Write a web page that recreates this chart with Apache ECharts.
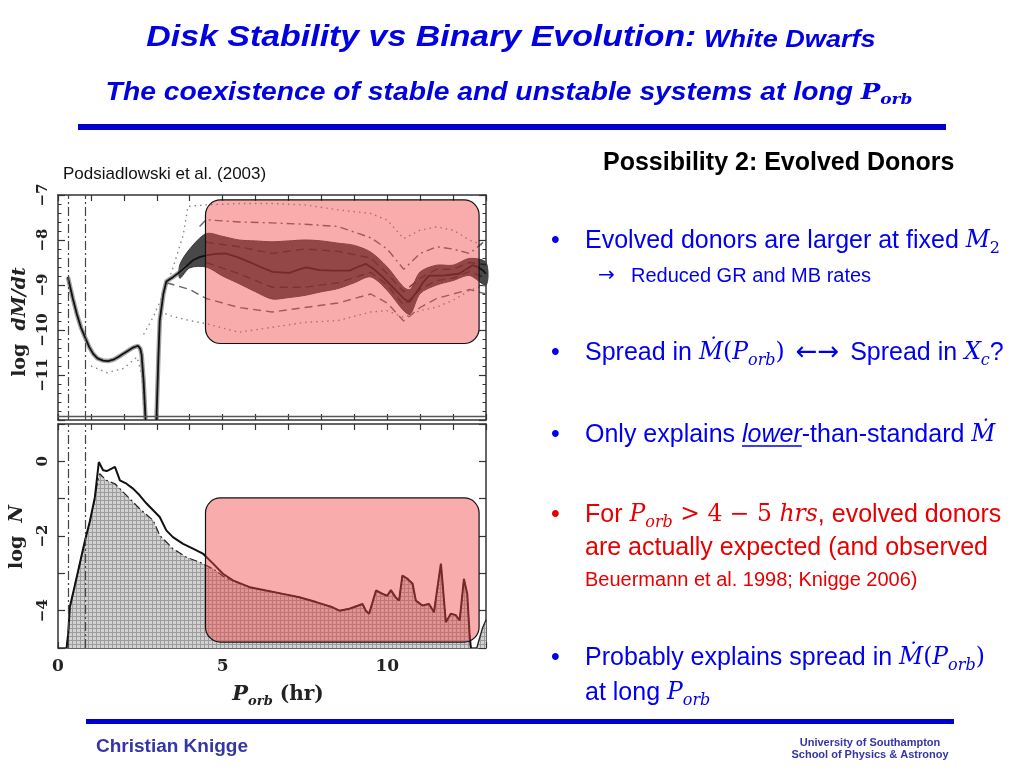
<!DOCTYPE html>
<html><head><meta charset="utf-8">
<script src="https://cdn.jsdelivr.net/npm/echarts@6/dist/echarts.min.js"></script>
<style>html,body{margin:0;padding:0;background:#fff}#c{width:1024px;height:768px}</style>
</head><body><div id="c"></div>
<script>
// ---------------- data ----------------
const xRange = [0, 13];
const xTickLabels = [0, 5, 10];
const mdotRange = [-12, -7];
const mdotTickLabels = [-7, -8, -9, -10, -11];
const logNRange = [-5, 1];
const logNTickLabels = [0, -2, -4];
const periodLines = [0.30, 0.82];
const mdotFloorLine = -11.91;

const mdotMainLeft = [[0.30,-8.82],[0.45,-9.30],[0.57,-9.64],[0.70,-9.95],[0.82,-10.16],[0.95,-10.38],[1.07,-10.53],[1.20,-10.63],[1.37,-10.68],[1.52,-10.69],[1.68,-10.66],[1.83,-10.60],[1.98,-10.53],[2.13,-10.46],[2.28,-10.39],[2.43,-10.35],[2.50,-10.42],[2.54,-10.55],[2.60,-11.13],[2.66,-12.0]];
const mdotMainRight = [[2.99,-12.0],[3.05,-10.6],[3.09,-9.79],[3.20,-9.20],[3.29,-8.92],[3.50,-8.82],[3.70,-8.71],[3.90,-8.58],[4.10,-8.45],[4.30,-8.38],[4.50,-8.34],[4.80,-8.31],[5.10,-8.30],[5.45,-8.38],[5.82,-8.49],[6.15,-8.60],[6.52,-8.71],[7.03,-8.73],[7.30,-8.66],[7.54,-8.61],[7.94,-8.67],[8.40,-8.68],[8.85,-8.68],[9.10,-8.60],[9.35,-8.53],[9.60,-8.65],[9.86,-8.82],[10.10,-9.00],[10.36,-9.19],[10.50,-9.30],[10.67,-9.38],[10.80,-9.25],[10.97,-9.08],[11.10,-8.93],[11.27,-8.79],[11.68,-8.79],[12.18,-8.75],[12.40,-8.65],[12.59,-8.56],[12.75,-8.60],[12.90,-8.67],[13.0,-8.75]];
const bandX  = [3.7, 4.0, 4.5, 5.0, 5.5, 6.0, 6.5, 7.0, 7.5, 8.0, 8.5, 9.0, 9.5, 10.0, 10.5, 10.7, 11.0, 11.5, 12.0, 12.5, 13.0];
const bandUp = [-8.55,-8.20,-7.86,-7.92,-8.00,-8.02,-8.04,-8.02,-8.00,-8.02,-8.07,-8.12,-8.27,-8.60,-9.05,-9.10,-8.71,-8.56,-8.56,-8.41,-8.50];
const bandLo = [-8.85,-8.62,-8.60,-8.80,-8.97,-9.15,-9.31,-9.28,-9.23,-9.15,-9.08,-8.95,-8.82,-9.12,-9.57,-9.65,-9.19,-9.00,-8.90,-8.79,-9.00];
const dashInnerUp = [[4.5,-8.05],[5.5,-8.15],[6.5,-8.30],[7.5,-8.20],[8.5,-8.25],[9.5,-8.40],[10.0,-8.75],[10.5,-9.15],[11.0,-8.85],[11.5,-8.65],[12.0,-8.65],[12.5,-8.50],[13.0,-8.55]];
const dashInnerLo = [[4.5,-8.50],[5.5,-8.75],[6.5,-9.05],[7.5,-9.05],[8.5,-8.95],[9.5,-8.72],[10.0,-9.00],[10.5,-9.45],[11.0,-9.10],[11.5,-8.90],[12.0,-8.85],[12.5,-8.70],[13.0,-8.85]];
const dashDotUp = [[4.3,-7.70],[4.5,-7.55],[5.5,-7.60],[6.5,-7.62],[7.5,-7.65],[8.5,-7.70],[9.5,-7.95],[10.0,-8.20],[10.5,-8.65],[11.0,-8.30],[11.5,-8.15],[12.0,-8.20],[12.5,-8.30],[13.0,-8.00]];
const dashOuterLo = [[3.3,-8.95],[4.0,-9.10],[4.5,-9.30],[5.5,-9.50],[6.5,-9.60],[7.5,-9.50],[8.5,-9.40],[9.5,-9.20],[10.0,-9.40],[10.5,-9.80],[11.0,-9.50],[11.5,-9.30],[12.0,-9.20],[12.5,-9.10],[13.0,-9.20]];
const dotUp = [[2.6,-10.1],[2.9,-9.7],[3.2,-9.2],[3.5,-8.6],[3.8,-7.9],[3.95,-7.25],[4.5,-7.22],[5.5,-7.19],[6.5,-7.19],[7.5,-7.22],[8.5,-7.33],[9.5,-7.41],[10.0,-7.56],[10.5,-7.97],[11.0,-7.78],[11.5,-7.71],[12.0,-7.78],[12.5,-8.00],[13.0,-8.15]];
const dotLo = [[3.1,-9.6],[3.5,-9.7],[4.0,-9.79],[4.5,-9.86],[5.5,-10.05],[6.5,-9.94],[7.5,-9.83],[8.5,-9.79],[9.5,-9.60],[10.0,-9.57],[10.5,-9.72],[11.0,-9.57],[11.5,-9.49],[12.0,-9.34],[12.5,-9.12],[13.0,-9.00]];
const dotLeft = [[1.0,-10.80],[1.5,-10.95],[2.0,-10.85],[2.4,-10.60],[2.55,-11.00],[2.65,-12.0]];

const logNRise = [[0.26,-5.0],[0.31,-4.62],[0.36,-3.90],[0.57,-3.10],[0.82,-2.12],[0.97,-1.60]];
const logNTotalHead = [[1.12,-0.96],[1.24,-0.02],[1.37,-0.24],[1.48,-0.26],[1.73,-0.15],[1.88,-0.51],[2.08,-0.60],[2.28,-0.73],[2.48,-0.91],[2.69,-1.13],[2.89,-1.31],[3.09,-1.49],[3.29,-1.85],[3.49,-2.03],[3.80,-2.21],[4.10,-2.34],[4.40,-2.47],[4.71,-2.74],[5.01,-3.01],[5.31,-3.19]];
const logNFillHead = [[1.12,-1.00],[1.20,-0.55],[1.27,-0.33],[1.45,-0.50],[1.58,-0.55],[1.73,-0.60],[2.08,-0.91],[2.48,-1.27],[2.89,-1.58],[3.09,-1.98],[3.49,-2.34],[3.90,-2.57],[4.30,-2.70],[4.71,-2.88],[5.12,-3.14],[5.31,-3.19]];
const logNTail = [[5.82,-3.37],[6.32,-3.46],[6.83,-3.55],[7.33,-3.64],[7.84,-3.77],[8.34,-3.91],[8.55,-4.00],[8.85,-3.95],[9.25,-3.82],[9.35,-4.00],[9.45,-4.08],[9.66,-3.46],[9.86,-3.55],[10.00,-3.60],[10.11,-3.45],[10.26,-3.65],[10.36,-3.73],[10.46,-3.06],[10.62,-3.15],[10.77,-3.28],[10.87,-3.73],[11.07,-3.86],[11.27,-3.82],[11.42,-4.04],[11.63,-2.74],[11.78,-4.31],[11.93,-4.08],[12.08,-4.12],[12.20,-4.26],[12.33,-3.15],[12.43,-3.55],[12.50,-4.62],[12.54,-5.0]];
const logNEdge = [[12.72,-5.0],[12.80,-4.75],[12.90,-4.45],[13.0,-4.25]];

const boxTop = [4.48, -7.11, 12.79, -10.30];
const boxBottom = [4.48, -0.98, 12.79, -4.84];

// ---------------- styles ----------------
const SANS = "'Liberation Sans', Arial, sans-serif";
const SERIF = "'DejaVu Serif', serif";
const ARROW = "'DejaVu Sans', sans-serif";
const BLUE = '#0000ee', RED = '#e60000', TBLUE = '#0000e0', FOOT = '#3535a8';
const AX = '#333', LAB = '#222';

const pat = document.createElement('canvas');
pat.width = 4; pat.height = 4;
(function(){ const g = pat.getContext('2d'); g.fillStyle = '#d2d2d2'; g.fillRect(0,0,4,4); g.fillStyle = '#9c9c9c'; g.fillRect(0,0,4,1); g.fillRect(0,0,1,4); })();

const minus = v => String(v).replace('-', '\u2212');

function xAx(grid, pos, labels) {
  return { type:'value', gridIndex:grid, position:pos, min:xRange[0], max:xRange[1], interval:1,
    axisLine:{show:true, onZero:false, lineStyle:{color:AX, width:1.5}},
    axisTick:{show:true, inside:true, length:6, lineStyle:{color:AX, width:1.2}},
    axisLabel:{show:labels, margin:10, showMinLabel:true, showMaxLabel:true,
      formatter: v => xTickLabels.indexOf(v) >= 0 ? String(v) : '',
      fontFamily:SERIF, fontWeight:'bold', fontSize:17, color:LAB},
    splitLine:{show:false} };
}
function yAx(grid, pos, range, labels, tickLabels, minor) {
  return { type:'value', gridIndex:grid, position:pos, min:range[0], max:range[1], interval:1,
    axisLine:{show:true, onZero:false, lineStyle:{color:AX, width:1.5}},
    axisTick:{show:true, inside:true, length:7, lineStyle:{color:AX, width:1.2}},
    minorTick:{show:minor, splitNumber:5, length:3.5, lineStyle:{color:AX, width:1}},
    axisLabel:{show:labels, rotate:90, margin:7, showMinLabel:true, showMaxLabel:true,
      formatter: v => tickLabels.indexOf(v) >= 0 ? minus(v) : '',
      fontFamily:SERIF, fontWeight:'bold', fontSize:15, color:LAB},
    splitLine:{show:false} };
}

function line(data, xi, color, width, type, extra) {
  return Object.assign({ type:'line', xAxisIndex:xi, yAxisIndex:xi, data:data, symbol:'none', silent:true,
    lineStyle:{color:color, width:width, type:type||'solid'} }, extra||{});
}
const vMark = {silent:true, symbol:'none', label:{show:false}, lineStyle:{color:'#444', type:[9,3,2,3], width:1.2},
  data: periodLines.map(v => ({xAxis:v}))};

function boxSeries(idx, box) {
  return { type:'custom', xAxisIndex:idx, yAxisIndex:idx, z:10, silent:true, clip:false,
    data:[box], encode:{x:[0,2], y:[1,3]},
    renderItem: function(params, api) {
      const a = api.coord([api.value(0), api.value(1)]);
      const b = api.coord([api.value(2), api.value(3)]);
      return { type:'rect', shape:{x:a[0], y:a[1], width:b[0]-a[0], height:b[1]-a[1], r:15},
        style:{fill:'rgba(242,72,72,0.45)', stroke:'#111', lineWidth:1.2} };
    } };
}

// spread band drawn as one polygon through the axis scales
const bandSeries = { type:'custom', xAxisIndex:0, yAxisIndex:0, z:1, silent:true,
  data: bandX.map((x,i) => [x, bandUp[i], bandLo[i]]), encode:{x:0, y:[1,2]},
  renderItem: function(params, api) {
    if (params.dataIndex !== 0) return null;
    const up = bandX.map((x,i) => api.coord([x, bandUp[i]]));
    const lo = bandX.map((x,i) => api.coord([x, bandLo[i]])).reverse();
    return { type:'polygon', shape:{points: up.concat(lo), smooth:0.3}, style:{fill:'#484848', stroke:'#3a3a3a', lineWidth:1} };
  } };

const series = [
  // top panel
  bandSeries,
  line(mdotMainLeft, 0, 'rgba(100,100,100,0.6)', 4.5, 'solid'),
  line(mdotMainRight.slice(0,8), 0, 'rgba(100,100,100,0.6)', 4.5, 'solid'),
  line(dotLeft, 0, '#888', 1.4, [1.5,4]),
  line(dotUp, 0, '#888', 1.4, [1.5,4]),
  line(dotLo, 0, '#888', 1.4, [1.5,4]),
  line(dashDotUp, 0, '#666', 1.4, [8,4,2,4]),
  line(dashOuterLo, 0, '#666', 1.4, [8,5]),
  line(dashInnerUp, 0, '#222', 1.4, [8,5]),
  line(dashInnerLo, 0, '#222', 1.4, [8,5]),
  line(mdotMainLeft, 0, '#111', 1.8, 'solid', {markLine: Object.assign({}, vMark, {data: vMark.data.concat([{yAxis: mdotFloorLine, lineStyle:{type:'solid', color:'#555', width:1.3}}])})}),
  line(mdotMainRight, 0, '#111', 1.8, 'solid'),
  boxSeries(0, boxTop),
  // bottom panel
  line(logNRise.concat(logNFillHead, logNTail), 2, '#222', 1.2, [8,3,2,3], {areaStyle:{color:{image:pat, repeat:'repeat'}, origin:'start', opacity:1}, markLine: vMark}),
  line(logNEdge, 2, '#222', 1.4, 'solid', {areaStyle:{color:{image:pat, repeat:'repeat'}, origin:'start', opacity:1}}),
  line(logNRise.concat(logNTotalHead, logNTail), 2, '#111', 2, 'solid'),
  boxSeries(2, boxBottom)
];

// ---------------- slide text ----------------
function rs(o) { return Object.assign({verticalAlign:'middle'}, o); }
const richBlue = {
  t: rs({fontFamily:SANS, fontSize:25, fill:BLUE}),
  g: rs({fontFamily:SANS, fontSize:25, fill:BLUE, padding:[0,2,0,2]}),
  u: rs({fontFamily:SANS, fontSize:25, fill:BLUE, fontStyle:'italic'}),
  a: rs({fontFamily:ARROW, fontSize:26, fill:BLUE}),
  m: rs({fontFamily:SERIF, fontStyle:'italic', fontSize:23.5, fill:BLUE}),
  r: rs({fontFamily:SERIF, fontSize:23.5, fill:BLUE}),
  s: rs({fontFamily:SERIF, fontStyle:'italic', fontSize:16, fill:BLUE, padding:[15,0,0,0]}),
  n: rs({fontFamily:SERIF, fontSize:16, fill:BLUE, padding:[15,0,0,0]})
};
const richRed = {};
Object.keys(richBlue).forEach(k => richRed[k] = Object.assign({}, richBlue[k], {fill:RED}));

function txt(x, y, text, style, extra) {
  return Object.assign({ type:'text', x:x, y:y, silent:true,
    style: Object.assign({text:text, align:'left', verticalAlign:'middle'}, style) }, extra||{});
}

const ctx = document.createElement('canvas').getContext('2d');
ctx.font = "25px 'Liberation Sans'"; const wOnly = ctx.measureText('Only explains ').width;
ctx.font = "italic 25px 'Liberation Sans'"; const wLower = ctx.measureText('lower').width;

const graphics = [
  txt(511, 37.5, '{a|Disk Stability vs Binary Evolution:}{b| White Dwarfs}', {align:'center', rich:{
      a: rs({fontFamily:SANS, fontSize:30, fontWeight:'bold', fontStyle:'italic', fill:TBLUE}),
      b: rs({fontFamily:SANS, fontSize:24, fontWeight:'bold', fontStyle:'italic', fill:TBLUE, padding:[5,0,0,0]})}}, {scaleX:1.13}),
  txt(509, 93, '{a|The coexistence of stable and unstable systems at long }{m|P}{s|orb}', {align:'center', rich:{
      a: rs({fontFamily:SANS, fontSize:25, fontWeight:'bold', fontStyle:'italic', fill:TBLUE}),
      m: rs({fontFamily:SERIF, fontSize:23, fontWeight:'bold', fontStyle:'italic', fill:TBLUE}),
      s: rs({fontFamily:SERIF, fontSize:15, fontWeight:'bold', fontStyle:'italic', fill:TBLUE, padding:[14,0,0,0]})}}, {scaleX:1.13}),
  {type:'rect', silent:true, shape:{x:78, y:124, width:868, height:6}, style:{fill:'#0000cc'}},
  {type:'rect', silent:true, shape:{x:86, y:719, width:868, height:5}, style:{fill:'#0000cc'}},
  txt(63, 174.5, 'Podsiadlowski et al. (2003)', {fontFamily:SANS, fontSize:17, fill:'#111'}),
  txt(603, 163, 'Possibility 2: Evolved Donors', {fontFamily:SANS, fontSize:25, fontWeight:'bold', fill:'#000'}),
  txt(551, 241, '\u2022', {fontFamily:SANS, fontSize:25, fill:BLUE}),
  txt(585, 241, '{t|Evolved donors are larger at fixed }{m|M}{n|2}', {rich:richBlue}),
  txt(598, 276, '\u2192', {fontFamily:ARROW, fontSize:20, fill:BLUE}),
  txt(631, 276, 'Reduced GR and MB rates', {fontFamily:SANS, fontSize:20, fill:BLUE}),
  txt(551, 353, '\u2022', {fontFamily:SANS, fontSize:25, fill:BLUE}),
  txt(585, 353, '{t|Spread in }{m|\u1E40}{r|(}{m|P}{s|orb}{r|)}{g| }{a|\u2190\u2192}{g| }{t|Spread in }{m|X}{s|c}{t|?}', {rich:richBlue}),
  txt(551, 435, '\u2022', {fontFamily:SANS, fontSize:25, fill:BLUE}),
  txt(585, 435, '{t|Only explains }{u|lower}{t|-than-standard }{m|\u1E40}', {rich:richBlue}),
  {type:'line', silent:true, shape:{x1:585+wOnly, y1:446, x2:585+wOnly+wLower, y2:446}, style:{stroke:BLUE, lineWidth:1.6}},
  txt(551, 515, '\u2022', {fontFamily:SANS, fontSize:25, fill:RED}),
  txt(585, 515, '{t|For }{m|P}{s|orb}{r| > 4 \u2212 5 }{m|hrs}{t|, evolved donors}', {rich:richRed}),
  txt(585, 548, 'are actually expected (and observed', {fontFamily:SANS, fontSize:25, fill:RED}),
  txt(585, 580, 'Beuermann et al. 1998; Knigge 2006)', {fontFamily:SANS, fontSize:20, fill:RED}),
  txt(551, 658, '\u2022', {fontFamily:SANS, fontSize:25, fill:BLUE}),
  txt(585, 658, '{t|Probably explains spread in }{m|\u1E40}{r|(}{m|P}{s|orb}{r|)}', {rich:richBlue}),
  txt(585, 693, '{t|at long }{m|P}{s|orb}', {rich:richBlue}),
  txt(96, 747, 'Christian Knigge', {fontFamily:SANS, fontSize:19, fontWeight:'bold', fill:FOOT}),
  txt(870, 743, 'University of Southampton', {align:'center', fontFamily:SANS, fontSize:11, fontWeight:'bold', fill:FOOT}),
  txt(870, 754.5, 'School of Physics & Astronoy', {align:'center', fontFamily:SANS, fontSize:11, fontWeight:'bold', fill:FOOT}),
  // axis titles
  txt(20, 322, '{n|log  }{i|dM/dt}', {align:'center', rich:{
      n: rs({fontFamily:SERIF, fontSize:19, fontWeight:'bold', fill:LAB}),
      i: rs({fontFamily:SERIF, fontSize:19, fontWeight:'bold', fontStyle:'italic', fill:LAB})}}, {rotation:Math.PI/2}),
  txt(17, 537, '{n|log  }{i|N}', {align:'center', rich:{
      n: rs({fontFamily:SERIF, fontSize:19, fontWeight:'bold', fill:LAB}),
      i: rs({fontFamily:SERIF, fontSize:19, fontWeight:'bold', fontStyle:'italic', fill:LAB})}}, {rotation:Math.PI/2}),
  txt(278, 695, '{p|P}{s|orb}{n| (hr)}', {align:'center', rich:{
      p: rs({fontFamily:SERIF, fontSize:21, fontWeight:'bold', fontStyle:'italic', fill:LAB}),
      s: rs({fontFamily:SERIF, fontSize:13, fontWeight:'bold', fontStyle:'italic', fill:LAB, padding:[14,0,0,0]}),
      n: rs({fontFamily:SERIF, fontSize:20, fontWeight:'bold', fill:LAB})}})
];

const chart = echarts.init(document.getElementById('c'), null, {renderer:'canvas'});
chart.setOption({
  animation:false,
  backgroundColor:'#fff',
  grid:[{left:58, top:195, width:428, height:225}, {left:58, top:424, width:428, height:224}],
  xAxis:[xAx(0,'bottom',false), xAx(0,'top',false), xAx(1,'bottom',true), xAx(1,'top',false)],
  yAxis:[yAx(0,'left',mdotRange,true,mdotTickLabels,true), yAx(0,'right',mdotRange,false,mdotTickLabels,true),
         yAx(1,'left',logNRange,true,logNTickLabels,false), yAx(1,'right',logNRange,false,logNTickLabels,false)],
  series: series,
  graphic: {elements: graphics}
});
</script></body></html>
